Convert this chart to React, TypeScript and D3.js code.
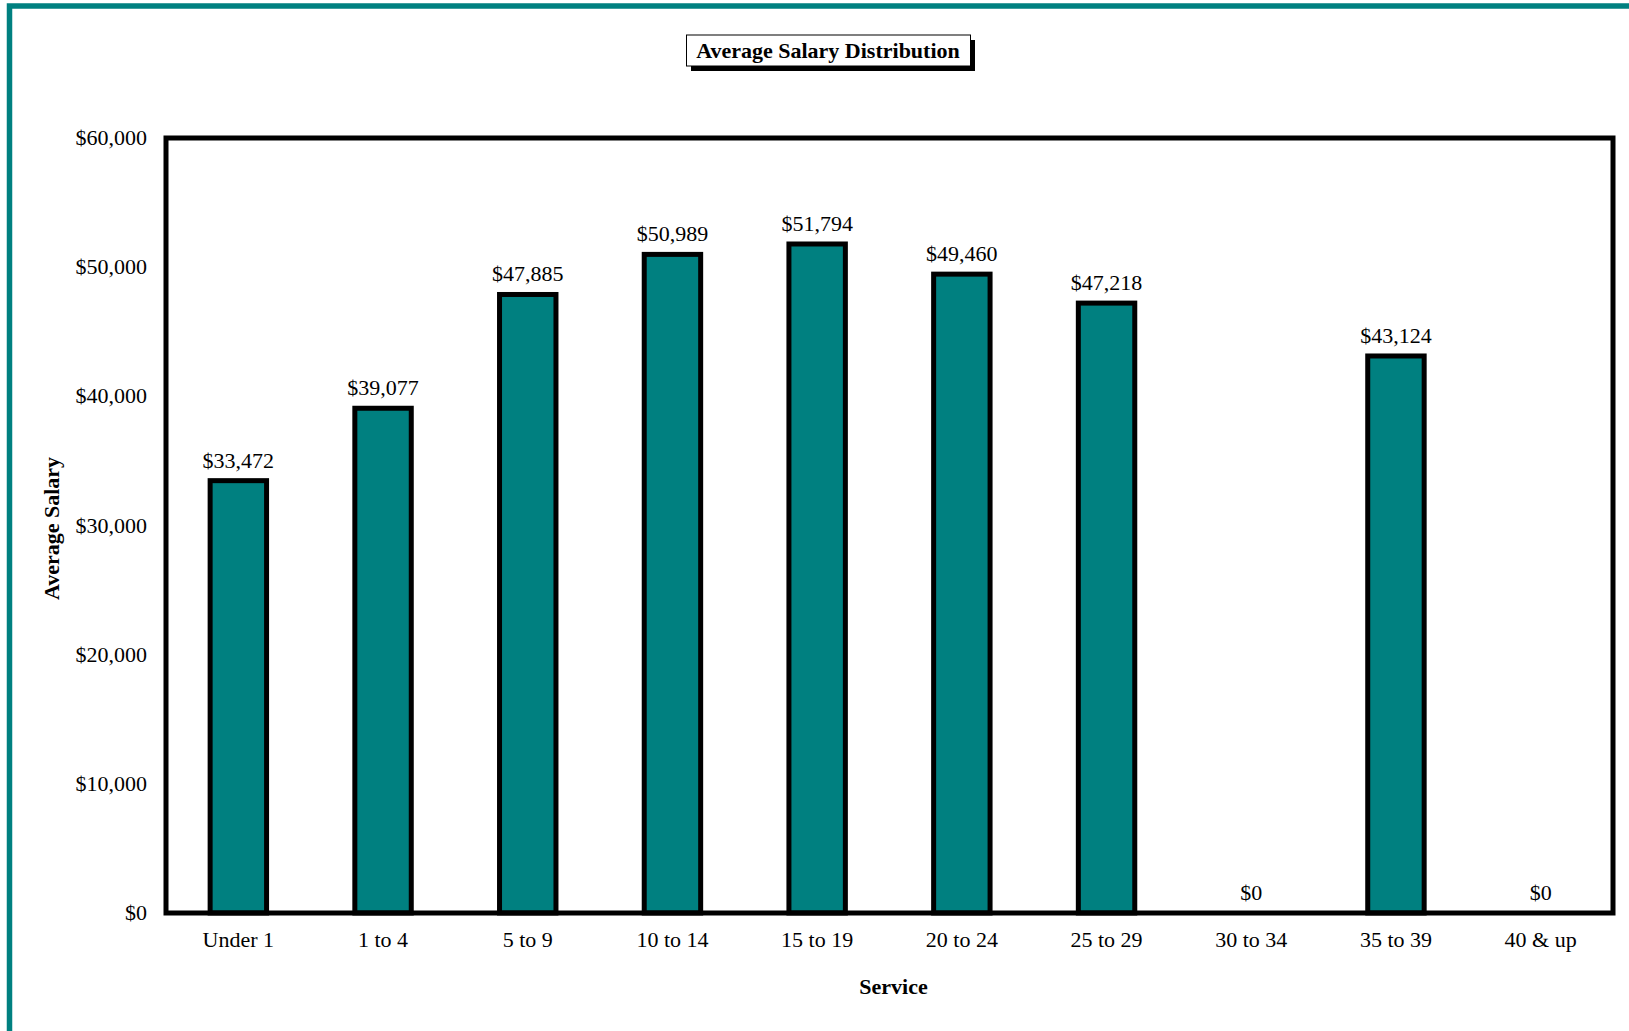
import * as d3 from "d3";

const categories = ["Under 1", "1 to 4", "5 to 9", "10 to 14", "15 to 19", "20 to 24", "25 to 29", "30 to 34", "35 to 39", "40 & up"];
const salaries = [33472, 39077, 47885, 50989, 51794, 49460, 47218, 0, 43124, 0];
const yTicks = [0, 10000, 20000, 30000, 40000, 50000, 60000];

const W = 1629,
  H = 1031;
const plot = { left: 166, right: 1613, top: 138, bottom: 913 };
const teal = "#008080";
const font = "'Liberation Serif', 'Times New Roman', serif";

const fmt = (v: number) => "$" + d3.format(",")(v);

export default function App() {
  const x = d3
    .scaleBand<string>()
    .domain(categories)
    .range([plot.left, plot.right])
    .padding(0);
  const y = d3.scaleLinear().domain([0, 60000]).range([plot.bottom, plot.top]);
  const barW = x.bandwidth() * 0.39;

  return (
    <svg
      width={W}
      height={H}
      style={{ position: "fixed", left: 0, top: 0, background: "#fff" }}
      fontFamily={font}
    >
      {/* outer teal frame, runs off right and bottom */}
      <rect x={9.5} y={6} width={W + 100} height={H + 100} fill="none" stroke={teal} strokeWidth={5.5} />

      {/* title with drop shadow */}
      <rect x={691} y={40} width={284} height={31} fill="#000" />
      <rect x={686.5} y={35} width={284} height={31} fill="#fff" stroke="#000" strokeWidth={1} />
      <text x={828} y={58} textAnchor="middle" fontSize={22} fontWeight="bold">
        Average Salary Distribution
      </text>

      {/* y ticks */}
      {yTicks.map((t) => (
        <text key={t} x={147} y={y(t) + 7} textAnchor="end" fontSize={22}>
          {fmt(t)}
        </text>
      ))}

      {/* bars */}
      {categories.map((c, i) => {
        const cx = (x(c) as number) + x.bandwidth() / 2;
        const v = salaries[i];
        return (
          <g key={c}>
            {v > 0 && (
              <rect
                x={cx - barW / 2}
                y={y(v)}
                width={barW}
                height={plot.bottom - y(v)}
                fill={teal}
                stroke="#000"
                strokeWidth={5}
              />
            )}
            <text x={cx} y={y(v) - 13} textAnchor="middle" fontSize={22}>
              {fmt(v)}
            </text>
            <text x={cx} y={947} textAnchor="middle" fontSize={22}>
              {c}
            </text>
          </g>
        );
      })}

      {/* plot frame */}
      <rect
        x={plot.left}
        y={plot.top}
        width={plot.right - plot.left}
        height={plot.bottom - plot.top}
        fill="none"
        stroke="#000"
        strokeWidth={5}
      />

      {/* axis titles */}
      <text x={(plot.left + plot.right) / 2 + 4} y={994} textAnchor="middle" fontSize={22} fontWeight="bold">
        Service
      </text>
      <text
        transform={`translate(59, ${(plot.top + plot.bottom) / 2 + 3}) rotate(-90)`}
        textAnchor="middle"
        fontSize={22}
        fontWeight="bold"
      >
        Average Salary
      </text>
    </svg>
  );
}
